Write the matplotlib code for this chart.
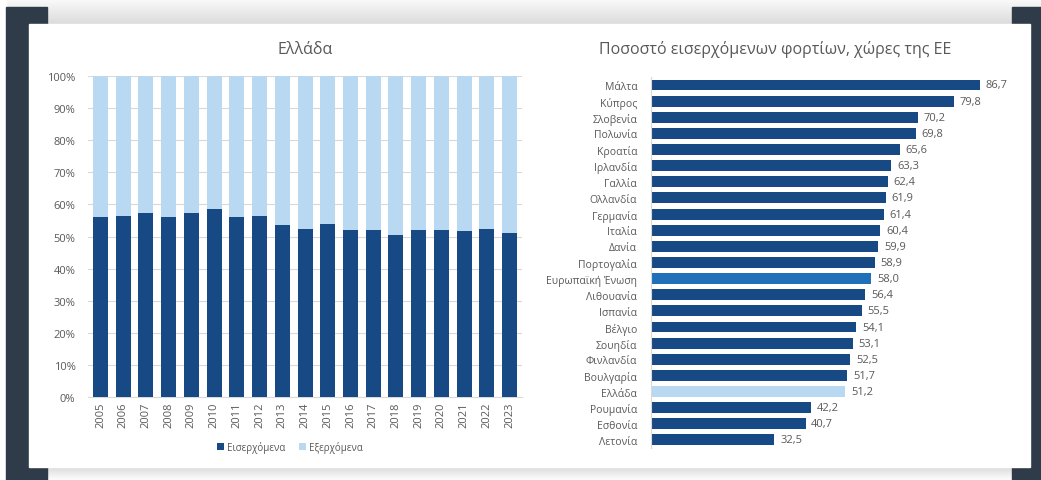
import matplotlib
matplotlib.use('Agg')
import matplotlib.pyplot as plt
from matplotlib.patches import Rectangle
import numpy as np

plt.rcParams['font.family'] = ['Open Sans', 'Noto Sans', 'DejaVu Sans']

# left chart: Greece, share of incoming vs outgoing freight
years = ['2005', '2006', '2007', '2008', '2009', '2010', '2011', '2012', '2013', '2014',
         '2015', '2016', '2017', '2018', '2019', '2020', '2021', '2022', '2023']
incoming = [56.2, 56.5, 57.4, 56.0, 57.5, 58.6, 56.2, 56.4, 53.5, 52.4,
            53.8, 51.9, 51.9, 50.6, 52.2, 51.9, 51.6, 52.5, 51.2]
outgoing = [100 - v for v in incoming]

# right chart: share of incoming freight, EU countries
countries = ['Μάλτα', 'Κύπρος', 'Σλοβενία', 'Πολωνία', 'Κροατία', 'Ιρλανδία', 'Γαλλία',
             'Ολλανδία', 'Γερμανία', 'Ιταλία', 'Δανία', 'Πορτογαλία', 'Ευρωπαϊκή Ένωση',
             'Λιθουανία', 'Ισπανία', 'Βέλγιο', 'Σουηδία', 'Φινλανδία', 'Βουλγαρία', 'Ελλάδα',
             'Ρουμανία', 'Εσθονία', 'Λετονία']
shares = [86.7, 79.8, 70.2, 69.8, 65.6, 63.3, 62.4, 61.9, 61.4, 60.4, 59.9, 58.9, 58.0,
          56.4, 55.5, 54.1, 53.1, 52.5, 51.7, 51.2, 42.2, 40.7, 32.5]

DARK = '#174a84'
LIGHT = '#b9d8f1'
EU = '#1f6fb9'
TXT = '#595959'
GRID = '#d9d9d9'

fig = plt.figure(figsize=(10.41, 4.81), dpi=100)

# page background: dark side strips, shaded bands, white panel
bg = fig.add_axes([0, 0, 1, 1], zorder=-10)
bg.set_xlim(0, 1041)
bg.set_ylim(481, 0)
bg.axis('off')
top_grad = np.linspace(0.98, 0.86, 50).reshape(-1, 1)
bg.imshow(top_grad, cmap='gray', vmin=0, vmax=1, extent=[0, 1041, 25, 0], aspect='auto')
bot_grad = np.linspace(0.86, 0.99, 20).reshape(-1, 1)
bg.imshow(bot_grad, cmap='gray', vmin=0, vmax=1, extent=[0, 1041, 481, 468], aspect='auto')
bg.add_patch(Rectangle((0, 0), 6, 481, color='white'))
bg.add_patch(Rectangle((6, 8), 41, 473, color='#2f3b49'))
bg.add_patch(Rectangle((1012, 8), 29, 473, color='#2f3b49'))
bg.add_patch(Rectangle((29, 25), 1001, 443, color='white'))

# left chart
ax1 = fig.add_axes([0.0845, 0.1726, 0.417, 0.667])
x = np.arange(len(years))
ax1.bar(x, incoming, width=0.66, color=DARK, label='Εισερχόμενα', zorder=3)
ax1.bar(x, outgoing, width=0.66, bottom=incoming, color=LIGHT, label='Εξερχόμενα', zorder=3)
ax1.set_xlim(-0.55, len(years) - 0.45)
ax1.set_ylim(0, 100)
ax1.set_yticks(np.arange(0, 101, 10))
ax1.set_yticklabels([f'{v}%' for v in range(0, 101, 10)])
ax1.set_xticks(x)
ax1.set_xticklabels(years, rotation=90)
ax1.grid(axis='y', color=GRID, linewidth=0.8, zorder=0)
for s in ['top', 'right', 'left']:
    ax1.spines[s].set_visible(False)
ax1.spines['bottom'].set_color(GRID)
ax1.tick_params(axis='both', length=0, labelsize=8, colors=TXT)
ax1.tick_params(axis='y', pad=9)
ax1.set_title('Ελλάδα', fontsize=11.5, color=TXT, pad=17)
ax1.legend(loc='upper center', bbox_to_anchor=(0.465, -0.11), ncol=2, frameon=False,
           fontsize=7, labelcolor=TXT, handlelength=0.7, handleheight=0.7,
           handletextpad=0.3, columnspacing=1.5)

# right chart
ax2 = fig.add_axes([0.6254, 0.0665, 0.3355, 0.7715])
y = np.arange(len(countries))
colors = [EU if c == 'Ευρωπαϊκή Ένωση' else LIGHT if c == 'Ελλάδα' else DARK for c in countries]
ax2.barh(y, shares, height=0.68, color=colors)
ax2.set_ylim(len(countries) - 0.5, -0.5)
ax2.set_xlim(0, 92)
ax2.set_yticks(y)
ax2.set_yticklabels(countries)
ax2.set_xticks([])
for s in ['top', 'right', 'bottom']:
    ax2.spines[s].set_visible(False)
ax2.spines['left'].set_color(GRID)
ax2.tick_params(axis='y', length=0, labelsize=7.5, colors=TXT, pad=10)
for v, yy in zip(shares, y):
    ax2.text(v + 1.5, yy, f'{v:.1f}'.replace('.', ','), va='center', ha='left',
             fontsize=8, color=TXT)
ax2.set_title('Ποσοστό εισερχόμενων φορτίων, χώρες της ΕΕ', fontsize=11.5, color=TXT,
              pad=17, x=0.355)

fig.savefig('out.png', dpi=100)
